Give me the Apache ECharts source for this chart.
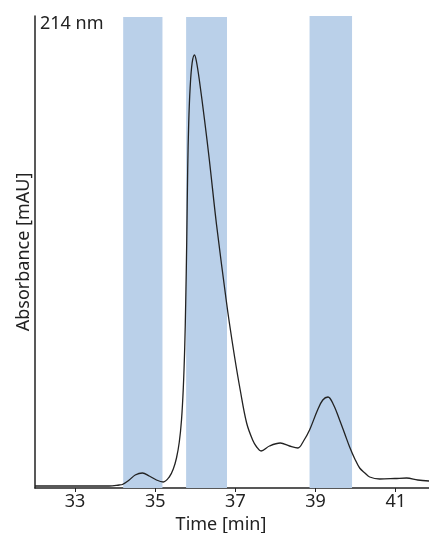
<!DOCTYPE html>
<html>
<head>
<meta charset="utf-8">
<script src="https://cdn.jsdelivr.net/npm/echarts@6/dist/echarts.min.js"></script>
<style>html,body{margin:0;padding:0;background:#fff}#chart{width:429px;height:533px}</style>
</head>
<body>
<div id="chart"></div>
<script>
// Retention time [min]
const times = [32.0, 33.1, 33.85, 34.1, 34.18, 34.35, 34.5, 34.68, 34.85, 35.03, 35.2, 35.35, 35.45, 35.53, 35.6, 35.655, 35.7, 35.735, 35.76, 35.785, 35.81, 35.835, 35.87, 35.92, 35.98, 36.03, 36.1, 36.23, 36.35, 36.53, 36.77, 36.85, 36.98, 37.12, 37.28, 37.43, 37.53, 37.64, 37.85, 38.12, 38.35, 38.56, 38.7, 38.85, 39.05, 39.18, 39.31, 39.45, 39.6, 39.73, 39.85, 39.98, 40.1, 40.23, 40.35, 40.6, 40.98, 41.27, 41.55, 41.83];
// Absorbance [mAU] (arbitrary units)
const absorbance = [2, 2, 2, 3, 3.5, 8, 13, 15, 12, 8, 6, 11, 19, 30, 46, 68, 100, 140, 185, 245, 320, 365, 400, 425, 433, 426, 408, 368, 328, 263, 188, 165, 131, 98, 65, 48, 41, 37, 42, 45, 42, 40, 47, 58, 78, 88, 91, 83, 68, 54, 41, 29, 20, 15, 11, 9, 9.5, 10, 8, 7];
// Collected fractions: [start, end, top]
const fractionStart = [34.2, 35.77, 38.85];
const fractionEnd = [35.18, 36.79, 39.91];
const fractionTop = [471, 471, 474];
const xTicks = [33, 35, 37, 39, 41];

const chart = echarts.init(document.getElementById('chart'), null, {renderer: 'canvas'});
const font = 'Noto Sans';
chart.setOption({
  animation: false,
  backgroundColor: '#fff',
  grid: {left: 35, right: 0, top: 16, bottom: 45, containLabel: false, outerBoundsMode: 'none'},
  xAxis: {
    type: 'value', min: 32, max: 41.83,
    name: 'Time [min]', nameLocation: 'middle', nameGap: 22,
    nameTextStyle: {fontFamily: font, fontSize: 18, color: '#222', padding: [0, 22, 0, 0]},
    axisLine: {show: true, lineStyle: {color: '#222', width: 1.5}},
    axisTick: {show: true, customValues: xTicks, length: 4, inside: false, lineStyle: {color: '#222', width: 1}},
    axisLabel: {customValues: xTicks, fontFamily: font, fontSize: 18, color: '#222', margin: 5},
    splitLine: {show: false}
  },
  yAxis: {
    type: 'value', min: 0, max: 472,
    name: 'Absorbance [mAU]', nameLocation: 'middle', nameGap: 2,
    nameTextStyle: {fontFamily: font, fontSize: 18, color: '#222'},
    axisLine: {show: true, lineStyle: {color: '#222', width: 1.5}},
    axisTick: {show: false}, axisLabel: {show: false}, splitLine: {show: false}
  },
  graphic: [{
    type: 'text', left: 40, top: 15,
    style: {text: '214 nm', fontFamily: font, fontSize: 18, fill: '#222'}
  }],
  series: [{
    type: 'line',
    data: times.map((t, i) => [t, absorbance[i]]),
    showSymbol: false, clip: false,
    smooth: 0.35,
    lineStyle: {color: '#222', width: 1.3},
    markArea: {
      silent: true,
      itemStyle: {color: '#bad0e9', opacity: 1},
      data: fractionStart.map((s, i) => [{xAxis: s, yAxis: 0}, {xAxis: fractionEnd[i], yAxis: fractionTop[i]}])
    },
    z: 3
  }]
});
</script>
</body>
</html>
